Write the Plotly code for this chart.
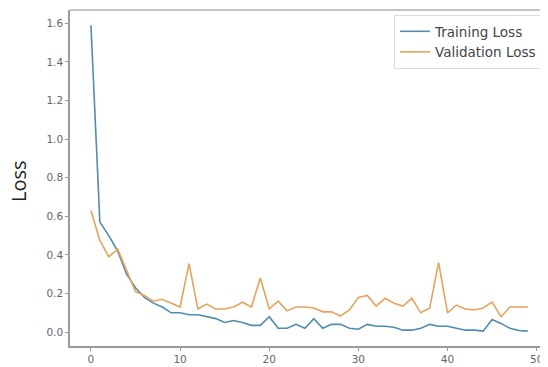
import plotly.graph_objects as go

epochs = list(range(50))
training_loss = [1.59, 0.57, 0.50, 0.42, 0.30, 0.23, 0.18, 0.15, 0.13, 0.10,
                 0.10, 0.09, 0.09, 0.08, 0.07, 0.05, 0.06, 0.05, 0.035, 0.035,
                 0.08, 0.02, 0.02, 0.04, 0.02, 0.07, 0.02, 0.04, 0.04, 0.02,
                 0.015, 0.04, 0.03, 0.03, 0.025, 0.01, 0.01, 0.02, 0.04, 0.03,
                 0.03, 0.02, 0.01, 0.01, 0.005, 0.065, 0.045, 0.02, 0.008, 0.005]
validation_loss = [0.63, 0.475, 0.39, 0.43, 0.32, 0.21, 0.19, 0.16, 0.17, 0.15,
                   0.13, 0.355, 0.12, 0.145, 0.12, 0.12, 0.13, 0.155, 0.13, 0.28,
                   0.12, 0.16, 0.11, 0.13, 0.13, 0.125, 0.105, 0.105, 0.083, 0.115,
                   0.18, 0.19, 0.135, 0.175, 0.15, 0.135, 0.175, 0.10, 0.125, 0.36,
                   0.10, 0.14, 0.12, 0.115, 0.125, 0.155, 0.08, 0.13, 0.13, 0.13]
x_ticks = [0, 10, 20, 30, 40, 50]
y_ticks = [0.0, 0.2, 0.4, 0.6, 0.8, 1.0, 1.2, 1.4, 1.6]

fig = go.Figure()
fig.add_trace(go.Scatter(x=epochs, y=training_loss, mode="lines", name="Training Loss",
                         line=dict(color="#4f8cae", width=1.6)))
fig.add_trace(go.Scatter(x=epochs, y=validation_loss, mode="lines", name="Validation Loss",
                         line=dict(color="#e6a35c", width=1.6)))

axis_common = dict(showgrid=False, zeroline=False, showline=True, linecolor="#9a9a9a",
                   linewidth=1.5, ticks="outside", ticklen=3, tickcolor="#9a9a9a",
                   automargin=False,
                   tickfont=dict(family="DejaVu Sans", size=10.5, color="#666666"))

fig.update_xaxes(range=[-2.35, 50.6], tickvals=x_ticks, **axis_common)
fig.update_yaxes(range=[-0.072, 1.669], tickvals=y_ticks, tickformat=".1f", **axis_common)

fig.add_annotation(text="Loss", xref="paper", yref="paper", x=0, y=0.5,
                   xanchor="center", yanchor="middle", xshift=-52, yshift=-3,
                   textangle=-90, showarrow=False, borderpad=0,
                   font=dict(family="Open Sans", size=20, color="#222222"))

fig.add_shape(type="line", xref="paper", yref="paper", x0=0, x1=1, y0=1, y1=1,
              line=dict(color="#b0b0b0", width=1.5))
fig.add_shape(type="line", xref="paper", yref="paper", x0=1, x1=1, y0=0, y1=1,
              line=dict(color="#e0e0e0", width=1))

fig.update_layout(
    width=540, height=359,
    margin=dict(l=62, r=6, t=2, b=21),
    plot_bgcolor="white", paper_bgcolor="white",
    legend=dict(x=1.0, y=0.985, xanchor="right", yanchor="top",
                bgcolor="rgba(255,255,255,0.9)", bordercolor="#dddddd", borderwidth=1,
                font=dict(family="DejaVu Sans", size=13.5, color="#444444"),
                tracegroupgap=0, itemwidth=30),
)

fig.write_html("out.html")
